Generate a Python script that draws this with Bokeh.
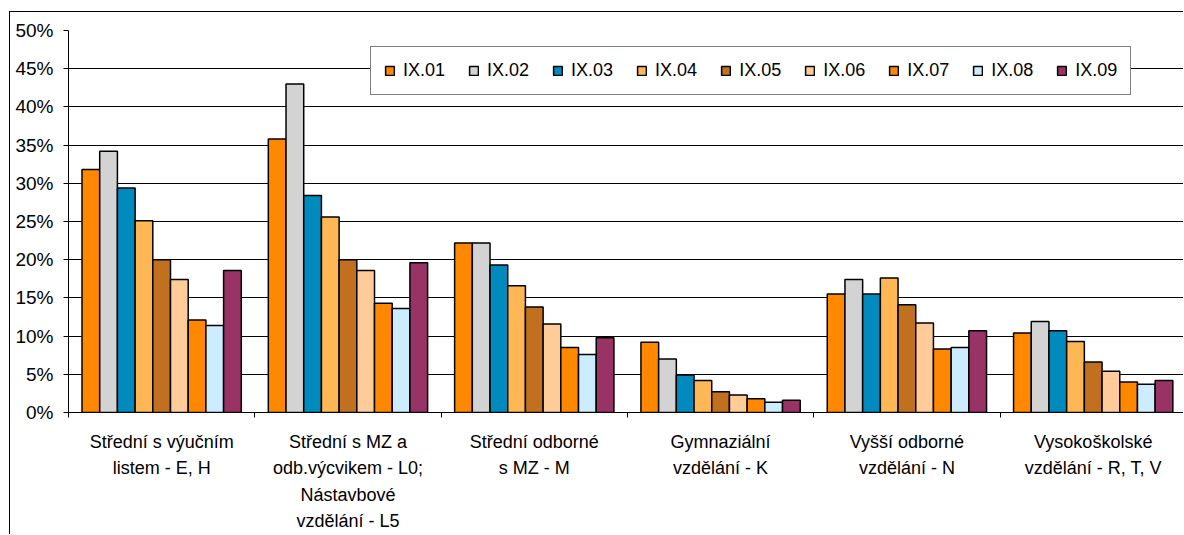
from bokeh.plotting import figure
from bokeh.models import FixedTicker, PrintfTickFormatter, Range1d, Legend, LegendItem
from bokeh.embed import file_html
from bokeh.resources import INLINE

categories = [
    "Střední s výučním\nlistem - E, H",
    "Střední s MZ a\nodb.výcvikem - L0;\nNástavbové\nvzdělání - L5",
    "Střední odborné\ns MZ - M",
    "Gymnaziální\nvzdělání - K",
    "Vyšší odborné\nvzdělání - N",
    "Vysokoškolské\nvzdělání - R, T, V",
]
series_names = ["IX.01", "IX.02", "IX.03", "IX.04", "IX.05", "IX.06", "IX.07", "IX.08", "IX.09"]
ix01 = [31.8, 35.8, 22.2, 9.2, 15.5, 10.4]
ix02 = [34.2, 43.0, 22.2, 7.0, 17.4, 11.9]
ix03 = [29.4, 28.4, 19.3, 4.9, 15.5, 10.7]
ix04 = [25.1, 25.6, 16.6, 4.2, 17.6, 9.3]
ix05 = [20.0, 20.0, 13.8, 2.7, 14.1, 6.6]
ix06 = [17.4, 18.6, 11.6, 2.3, 11.7, 5.4]
ix07 = [12.1, 14.3, 8.5, 1.8, 8.3, 4.0]
ix08 = [11.4, 13.6, 7.6, 1.35, 8.5, 3.7]
ix09 = [18.6, 19.6, 9.8, 1.6, 10.7, 4.2]
series_values = [ix01, ix02, ix03, ix04, ix05, ix06, ix07, ix08, ix09]
colors = ["#FF8800", "#D3D3D3", "#008ABD", "#FDB755", "#C0701E", "#FFCC99", "#FF8800", "#CCECFF", "#993366"]
y_ticks = list(range(0, 51, 5))

FONT = "Liberation Sans"
BAR_W = 0.095
n_groups = len(categories)

p = figure(width=1174, height=523, output_backend="svg", toolbar_location=None,
           x_range=Range1d(0, 5.99), y_range=Range1d(0, 50),
           min_border_left=58, min_border_right=0, min_border_top=18, min_border_bottom=123)
p.styles = {"border-left": "1px solid #000", "border-top": "1px solid #000",
            "margin-left": "9px", "margin-top": "11px"}
p.outline_line_color = None
p.background_fill_color = "white"
p.border_fill_color = "white"

items = []
for i, (name, vals, col) in enumerate(zip(series_names, series_values, colors)):
    xs = [g + 0.5 + (i - 4) * BAR_W for g in range(n_groups)]
    r = p.vbar(x=xs, top=vals, width=BAR_W, fill_color=col, line_color="black", line_width=1.5)
    items.append(LegendItem(label=name, renderers=[r]))

# y axis
p.yaxis.ticker = FixedTicker(ticks=y_ticks, minor_ticks=[])
p.yaxis.formatter = PrintfTickFormatter(format="%d%%")
p.yaxis.axis_line_color = "black"
p.yaxis.major_tick_line_color = "black"
p.yaxis.major_tick_out = 5
p.yaxis.major_tick_in = 0
p.yaxis.minor_tick_line_color = None
p.yaxis.major_label_standoff = 10
p.yaxis.major_label_text_font = FONT
p.yaxis.major_label_text_font_size = "19px"
p.yaxis.major_label_text_color = "black"

# x axis
centers = [g + 0.5 for g in range(n_groups)]
p.xaxis.ticker = FixedTicker(ticks=centers, minor_ticks=list(range(n_groups + 1)))
p.xaxis.major_label_overrides = {c: lab for c, lab in zip(centers, categories)}
p.xaxis.axis_line_color = "black"
p.xaxis.major_tick_line_color = None
p.xaxis.major_tick_out = 0
p.xaxis.major_tick_in = 0
p.xaxis.minor_tick_line_color = "black"
p.xaxis.minor_tick_out = 5
p.xaxis.minor_tick_in = 0
p.xaxis.major_label_standoff = 14
p.xaxis.major_label_text_font = FONT
p.xaxis.major_label_text_font_size = "18px"
p.xaxis.major_label_text_color = "black"
p.xaxis.major_label_text_line_height = 1.33

p.xgrid.visible = False
p.ygrid.ticker = FixedTicker(ticks=y_ticks)
p.ygrid.grid_line_color = "black"
p.ygrid.grid_line_width = 1

legend = Legend(items=items, orientation="horizontal", location=(302, 317),
                label_text_font=FONT, label_text_font_size="18px", label_text_color="black",
                glyph_width=11, glyph_height=11, label_standoff=8, spacing=23,
                padding=13, margin=0, border_line_color="black", border_line_width=1,
                background_fill_color="white", background_fill_alpha=1.0)
p.add_layout(legend)

open("out.html", "w").write(file_html(p, INLINE))
